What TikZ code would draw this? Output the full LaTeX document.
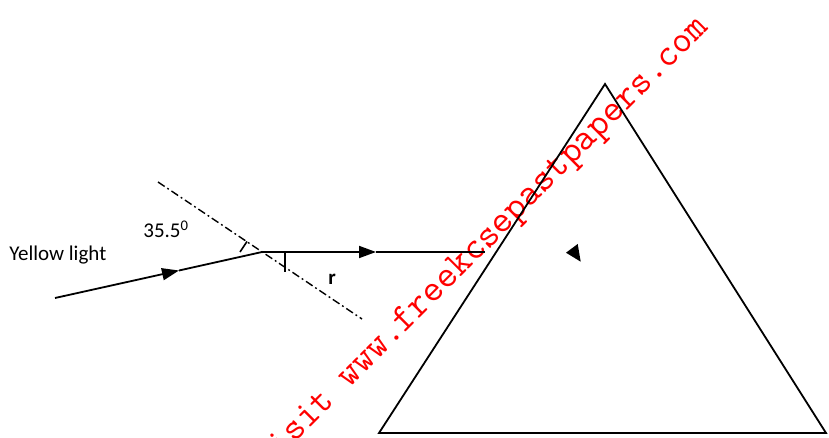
\documentclass[tikz,border=0pt]{standalone}
\usepackage{fontspec}
\setmainfont{Carlito}
\usetikzlibrary{arrows.meta}
\begin{document}
\begin{tikzpicture}[x=0.5pt,y=-0.5pt,
  ray/.style={line width=0.9pt},
  raytip/.style={ray,-{Triangle[length=8.5pt,width=6pt]}},
  surface/.style={line width=0.7pt,dash pattern=on 4pt off 1.6pt on 0.9pt off 1.6pt},
  prism/.style={line width=0.9pt,line join=miter},
  lbl/.style={inner sep=0pt,font=\fontsize{10.5}{12}\selectfont},
  anglemark/.style={line width=0.8pt}]
\useasboundingbox (0,0) rectangle (829,438);
% coordinates
\coordinate (src) at (55,298);
\coordinate (hit) at (262,252);
\coordinate (tipA) at (179,270.5);
\coordinate (tipB) at (376,252);
\coordinate (rend) at (485,252);
\coordinate (nA) at (158,182);
\coordinate (nB) at (362,319);
\coordinate (apex) at (605,84);
\coordinate (bl) at (379,433);
\coordinate (br) at (826,433);
% watermark
\node[rotate=45,text=red,inner sep=0pt,anchor=base,font=\ttfamily\fontsize{19}{21}\selectfont] (wm) at (488,250) {Visit www.freekcsepastpapers.com};
% prism
\draw[prism] (apex) -- (br) -- (bl) -- cycle;
% surface line
\draw[surface] (nA) -- (nB);
% rays
\draw[raytip] (src) -- (tipA);
\draw[ray] (tipA) -- (hit);
\draw[raytip] (hit) -- (tipB);
\draw[ray] (tipB) -- (rend);
% angle marks
\coordinate (m1a) at (240,252);
\coordinate (m1b) at (247,241.5);
\draw[anglemark] (m1a) -- (m1b);
\coordinate (m2a) at (285,252);
\coordinate (m2b) at (285,272);
\draw[anglemark] (m2a) -- (m2b);
% stray arrowhead inside prism
\fill (566,252.7) -- (577.7,244) -- (580.7,261.7) -- cycle;
% labels
\node[lbl,anchor=base west] (yl) at (9,260.5) {Yellow light};
\node[lbl,anchor=base west] (ang) at (143,238) {35.5\textsuperscript{0}};
\node[lbl,anchor=base,font=\fontsize{10.5}{12}\selectfont\bfseries] (r) at (332,285) {r};
\end{tikzpicture}
\end{document}
